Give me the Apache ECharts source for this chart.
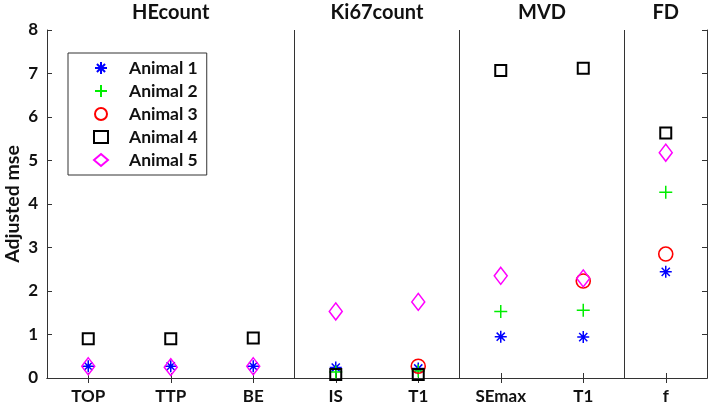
<!DOCTYPE html>
<html><head><meta charset="utf-8">
<script src="https://cdn.jsdelivr.net/npm/echarts@6/dist/echarts.min.js"></script>
<style>html,body{margin:0;padding:0;background:#fff}#c{width:709px;height:407px}</style>
</head><body><div id="c"></div>
<script>
const categories = ['TOP','TTP','BE','IS','T1','SEmax','T1','f'];
const groupNames = ['HEcount','Ki67count','MVD','FD'];
const groupCenters = [2, 4.5, 6.5, 8];
const dividers = [3.5, 5.5, 7.5];
const yTicks = [0,1,2,3,4,5,6,7,8];
const yTitle = 'Adjusted mse';
const animal1 = [0.27, 0.27, 0.27, 0.24, 0.22, 0.95, 0.94, 2.44];
const animal2 = [null, null, null, 0.14, 0.16, 1.53, 1.56, 4.27];
const animal3 = [null, null, null, null, 0.27, null, 2.23, 2.85];
const animal4 = [0.90, 0.90, 0.92, 0.08, 0.08, 7.07, 7.12, 5.63];
const animal5 = [0.27, 0.25, 0.27, 1.53, 1.75, 2.35, 2.29, 5.18];

const FONT = 'Lato';
const asterisk = 'path://M5,0L5,10M0,5L10,5M1.6,1.6L8.4,8.4M8.4,1.6L1.6,8.4';
const plus = 'path://M5,0L5,10M0,5L10,5';
const pts = arr => arr.map((v,i)=> v==null? null : [i+1, v]).filter(p=>p);

const seriesDefs = [
  {name:'Animal 1', data:animal1, symbol:asterisk, size:12, color:'#0000ff', bw:1.5},
  {name:'Animal 2', data:animal2, symbol:plus, size:13, color:'#00ee00', bw:1.5},
  {name:'Animal 3', data:animal3, symbol:'circle', size:14, color:'#ff0000', bw:1.6},
  {name:'Animal 4', data:animal4, symbol:'rect', size:11, color:'#000000', bw:2},
  {name:'Animal 5', data:animal5, symbol:'diamond', size:[13,17], color:'#ff00ff', bw:1.5}
];

const chart = echarts.init(document.getElementById('c'));
const series = seriesDefs.map((s,k)=>({
  name:s.name, type:'scatter', data:pts(s.data), symbol:s.symbol, symbolSize:s.size,
  itemStyle:{color:'rgba(0,0,0,0)', borderColor:s.color, borderWidth:s.bw, opacity:1},
  emphasis:{disabled:true}, z: 3+k,
  markLine: k===0 ? {silent:true, symbol:'none', animation:false, label:{show:false},
    lineStyle:{color:'#333', width:1, type:'solid'},
    data: dividers.map(d=>({xAxis:d}))} : undefined
}));

const xCommon = {type:'value', min:0.5, max:8.5, splitLine:{show:false},
  axisLine:{lineStyle:{color:'#333'}}};
chart.setOption({
  animation:false,
  grid:{left:47, right:2, top:30, bottom:29, containLabel:false, outerBoundsMode:'none'},
  legend:{orient:'vertical', left:68, top:53,
    data:seriesDefs.map(s=>s.name), backgroundColor:'#fff',
    borderColor:'#333', borderWidth:1, padding:[6,9,6,25],
    itemWidth:14, itemHeight:12, itemGap:5,
    textStyle:{fontFamily:FONT, fontWeight:'bold', fontSize:17.5, color:'#111', padding:[0,0,0,16]}},
  xAxis:[
    Object.assign({}, xCommon, {position:'bottom',
      axisTick:{inside:true, length:5, customValues:[1,2,3,4,5,6,7,8], lineStyle:{color:'#333'}},
      axisLabel:{customValues:[1,2,3,4,5,6,7,8], formatter:v=>categories[Math.round(v)-1],
        fontFamily:FONT, fontWeight:'bold', fontSize:17, color:'#111', margin:10}}),
    Object.assign({}, xCommon, {position:'top',
      axisTick:{inside:true, length:5, customValues:[1,2,3,4,5,6,7,8], lineStyle:{color:'#333'}},
      axisLabel:{show:false}})
  ],
  yAxis:[
    {type:'value', min:0, max:8, interval:1, position:'left', splitLine:{show:false},
      axisLine:{show:true, lineStyle:{color:'#333'}},
      axisTick:{inside:true, length:5, lineStyle:{color:'#333'}},
      axisLabel:{fontFamily:FONT, fontWeight:'bold', fontSize:17, color:'#111', margin:9}},
    {type:'value', min:0, max:8, interval:1, position:'right', splitLine:{show:false},
      axisLine:{show:true, lineStyle:{color:'#333'}},
      axisTick:{inside:true, length:5, lineStyle:{color:'#333'}},
      axisLabel:{show:false}}
  ],
  series: series
});

const gy = chart.convertToPixel({yAxisIndex:0}, 8);
const ymid = chart.convertToPixel({yAxisIndex:0}, 4);
const graphics = groupNames.map((g,i)=>({
  type:'text', x: chart.convertToPixel({xAxisIndex:0}, groupCenters[i]), y: gy - 17,
  style:{text:g, fontFamily:FONT, fontWeight:'bold', fontSize:20, fill:'#111',
    align:'center', verticalAlign:'middle'}
}));
graphics.push({type:'text', x:13, y:ymid, rotation:Math.PI/2,
  style:{text:yTitle, fontFamily:FONT, fontWeight:'bold', fontSize:19.5, fill:'#111',
    align:'center', verticalAlign:'middle'}});
chart.setOption({graphic: graphics});
</script></body></html>
